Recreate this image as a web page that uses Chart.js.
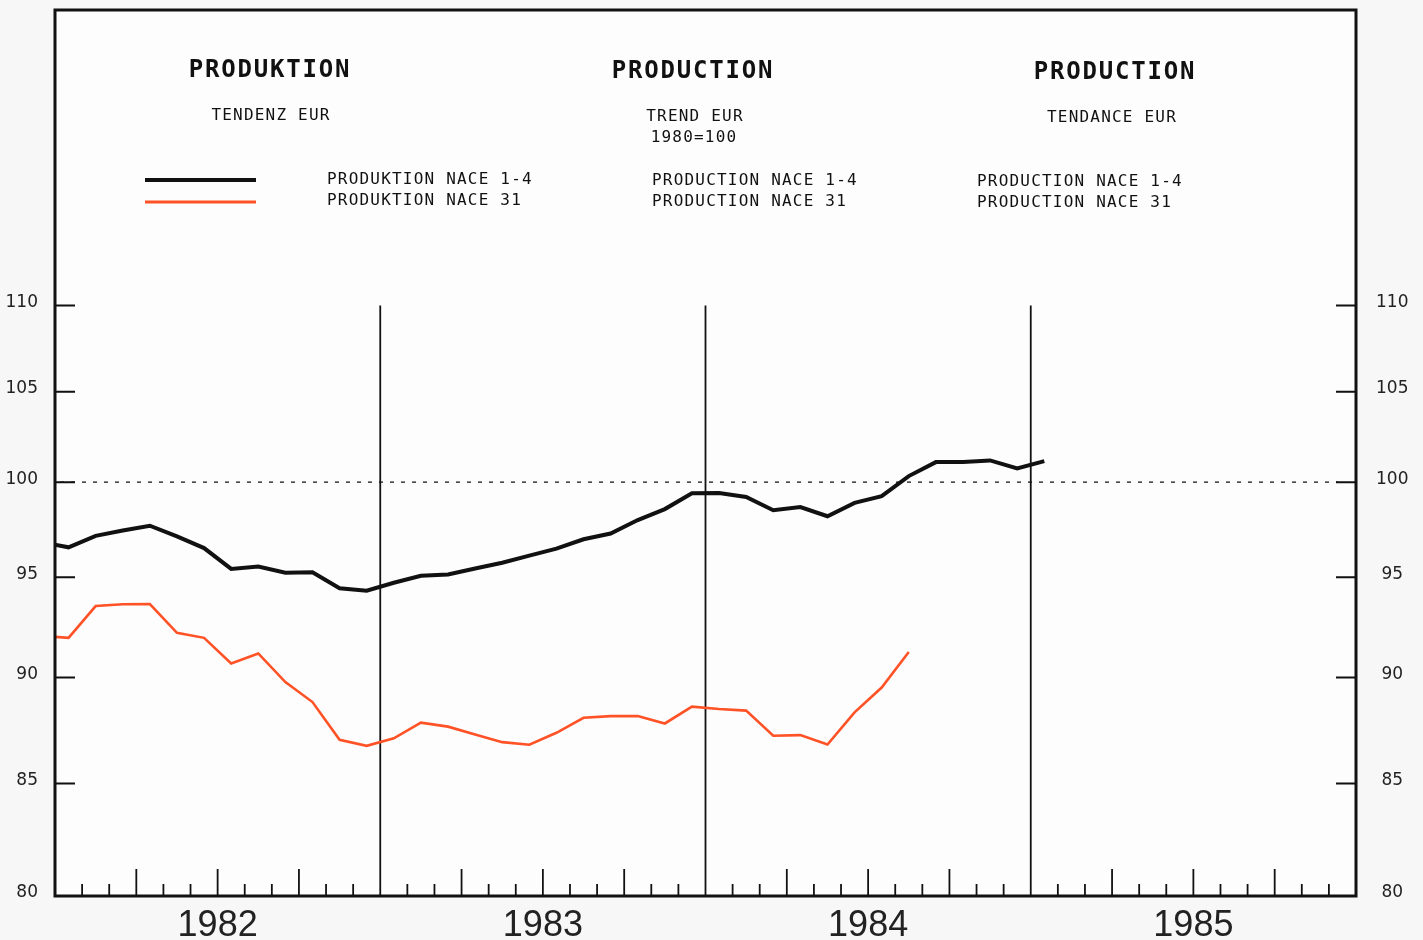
<!DOCTYPE html>
<html>
<head>
<meta charset="utf-8">
<title>Produktion / Production</title>
<script src="https://cdn.jsdelivr.net/npm/chart.js@4.4.1/dist/chart.umd.min.js"></script>
<style>
  html, body { margin: 0; padding: 0; background: #f7f7f7; }
  #wrap { width: 1423px; height: 940px; }
</style>
</head>
<body>
<div id="wrap"><canvas id="prodChart" width="1423" height="940"></canvas></div>
<script>
// monthly trend values, plotted at mid-month
const months = [
  '1981-12',
  '1982-01', '1982-02', '1982-03', '1982-04', '1982-05', '1982-06',
  '1982-07', '1982-08', '1982-09', '1982-10', '1982-11', '1982-12',
  '1983-01', '1983-02', '1983-03', '1983-04', '1983-05', '1983-06',
  '1983-07', '1983-08', '1983-09', '1983-10', '1983-11', '1983-12',
  '1984-01', '1984-02', '1984-03', '1984-04', '1984-05', '1984-06',
  '1984-07', '1984-08', '1984-09', '1984-10', '1984-11', '1984-12',
  '1985-01'
];

// PRODUKTION NACE 1-4 (1980=100)
const nace14 = [
  96.82,
  96.55, 97.15, 97.43, 97.68, 97.12, 96.51,
  95.43, 95.55, 95.24, 95.26, 94.44, 94.32,
  94.72, 95.08, 95.15, 95.45, 95.75, 96.12,
  96.48, 96.97, 97.27, 97.98, 98.56, 99.40,
  99.42, 99.21, 98.50, 98.67, 98.18, 98.89,
  99.25, 100.33, 101.09, 101.09, 101.18, 100.74,
  101.14
];

// PRODUKTION NACE 31 (1980=100)
const nace31 = [
  92.05,
  91.95, 93.54, 93.63, 93.64, 92.20, 91.95,
  90.69, 91.18, 89.78, 88.82, 87.03, 86.75,
  87.10, 87.84, 87.65, 87.28, 86.92, 86.80,
  87.36, 88.07, 88.15, 88.15, 87.80, 88.60,
  88.49, 88.41, 87.22, 87.25, 86.81, 88.33,
  89.52, 91.25
];

const years = [1982, 1983, 1984, 1985];
const valueTicks = [80, 85, 90, 95, 100, 105, 110];
const baseValue = 100;

const firstYear = years[0];
function monthPos(label) {
  const [yr, m] = label.split('-').map(Number);
  return (yr - firstYear) * 12 + (m - 1) + 0.5;
}
function toPoints(values) {
  return values.map((v, i) => ({ x: monthPos(months[i]), y: v }));
}

const tickFont = { family: 'DejaVu Sans', size: 17 };

// frame, ticks, year lines, 100 line and the header texts
const decorations = {
  id: 'decorations',
  beforeDraw(chart) {
    const { ctx, chartArea: a } = chart;
    ctx.save();
    ctx.fillStyle = '#f7f7f7';
    ctx.fillRect(0, 0, chart.width, chart.height);
    ctx.fillStyle = '#fdfdfd';
    ctx.fillRect(a.left, a.top, a.right - a.left, a.bottom - a.top);
    ctx.restore();
  },
  beforeDatasetsDraw(chart) {
    const { ctx, chartArea: a, scales: { x, y } } = chart;
    ctx.save();
    ctx.strokeStyle = '#111';

    // dashed 1980=100 line
    const yBase = y.getPixelForValue(baseValue);
    ctx.setLineDash([4, 7]);
    ctx.lineWidth = 1.3;
    ctx.beginPath();
    ctx.moveTo(a.left + 5, yBase);
    ctx.lineTo(a.right - 18, yBase);
    ctx.stroke();
    ctx.setLineDash([]);

    // value ticks, inward on both sides
    ctx.lineWidth = 2;
    valueTicks.slice(1).forEach(v => {
      const py = y.getPixelForValue(v);
      ctx.beginPath();
      ctx.moveTo(a.left, py); ctx.lineTo(a.left + 20, py);
      ctx.moveTo(a.right, py); ctx.lineTo(a.right - 20, py);
      ctx.stroke();
    });

    // month ticks, longer at quarters
    ctx.lineWidth = 1.8;
    for (let m = 1; m < years.length * 12; m++) {
      if (m % 12 === 0) continue;
      const px = x.getPixelForValue(m);
      const len = m % 3 === 0 ? 27 : 12;
      ctx.beginPath();
      ctx.moveTo(px, a.bottom);
      ctx.lineTo(px, a.bottom - len);
      ctx.stroke();
    }

    // year separators
    const yTop = y.getPixelForValue(valueTicks[valueTicks.length - 1]);
    for (let i = 1; i < years.length; i++) {
      const px = x.getPixelForValue(i * 12);
      ctx.beginPath();
      ctx.moveTo(px, yTop);
      ctx.lineTo(px, a.bottom);
      ctx.stroke();
    }
    ctx.restore();
  },
  afterDraw(chart) {
    const { ctx, chartArea: a } = chart;
    ctx.save();
    ctx.strokeStyle = '#111';
    ctx.lineWidth = 3;
    ctx.strokeRect(a.left, a.top, a.right - a.left, a.bottom - a.top);

    ctx.fillStyle = '#111';
    ctx.textBaseline = 'middle';

    ctx.font = 'bold 24px "DejaVu Sans Mono"';
    ctx.letterSpacing = '1.8px';
    ctx.textAlign = 'center';
    ctx.fillText('PRODUKTION', 270, 71);
    ctx.fillText('PRODUCTION', 693, 72);
    ctx.fillText('PRODUCTION', 1115, 73);

    ctx.font = '16px "DejaVu Sans Mono"';
    ctx.letterSpacing = '1.2px';
    ctx.fillText('TENDENZ EUR', 271, 116);
    ctx.fillText('TREND EUR', 695, 117);
    ctx.fillText('1980=100', 694, 138);
    ctx.fillText('TENDANCE EUR', 1112, 118);

    ctx.textAlign = 'left';
    ctx.fillText('PRODUKTION NACE 1-4', 327, 180);
    ctx.fillText('PRODUKTION NACE 31', 327, 201);
    ctx.fillText('PRODUCTION NACE 1-4', 652, 181);
    ctx.fillText('PRODUCTION NACE 31', 652, 202);
    ctx.fillText('PRODUCTION NACE 1-4', 977, 182);
    ctx.fillText('PRODUCTION NACE 31', 977, 203);

    // legend samples
    chart.data.datasets.forEach((ds, i) => {
      ctx.strokeStyle = ds.borderColor;
      ctx.lineWidth = i === 0 ? 4 : 3;
      ctx.beginPath();
      ctx.moveTo(145, 180 + i * 22);
      ctx.lineTo(256, 180 + i * 22);
      ctx.stroke();
    });
    ctx.restore();
  }
};

function valueAxis(position, width, extraTicks) {
  return {
    type: 'logarithmic',
    position: position,
    min: 80,
    max: 129,
    grid: { display: false, drawTicks: false, tickLength: 0 },
    border: { display: false },
    afterBuildTicks: s => { s.ticks = valueTicks.map(v => ({ value: v })); },
    afterFit: s => { s.width = width; s.paddingTop = 0; s.paddingBottom = 0; },
    ticks: Object.assign({
      color: '#222',
      font: tickFont,
      labelOffset: -3,
      callback: v => String(v)
    }, extraTicks)
  };
}

const ctxProd = document.getElementById('prodChart').getContext('2d');
const prodChart = new Chart(ctxProd, {
  type: 'line',
  data: {
    datasets: [{
      label: 'PRODUKTION NACE 1-4',
      data: toPoints(nace14),
      borderColor: '#111111',
      borderWidth: 4,
      pointRadius: 0,
      tension: 0,
      clip: 0
    }, {
      label: 'PRODUKTION NACE 31',
      data: toPoints(nace31),
      borderColor: '#ff5226',
      borderWidth: 2.6,
      pointRadius: 0,
      tension: 0,
      clip: 0
    }]
  },
  options: {
    responsive: false,
    animation: false,
    layout: { padding: { top: 10, left: 0, right: 0, bottom: 0 } },
    plugins: {
      legend: { display: false },
      tooltip: { enabled: false }
    },
    scales: {
      x: {
        type: 'linear',
        min: 0,
        max: years.length * 12,
        grid: { display: false, drawTicks: false, tickLength: 0 },
        border: { display: false },
        afterBuildTicks: s => { s.ticks = years.map((yr, i) => ({ value: i * 12 + 6 })); },
        afterFit: s => { s.height = 44; s.paddingLeft = 0; s.paddingRight = 0; },
        ticks: {
          autoSkip: false,
          maxRotation: 0,
          padding: 8,
          color: '#222',
          font: { family: 'Liberation Sans', size: 36 },
          callback: (v, i) => String(years[i])
        }
      },
      y: valueAxis('left', 55, { padding: 17 }),
      y2: valueAxis('right', 67, { padding: 20, crossAlign: 'center' })
    }
  },
  plugins: [decorations]
});
</script>
</body>
</html>
